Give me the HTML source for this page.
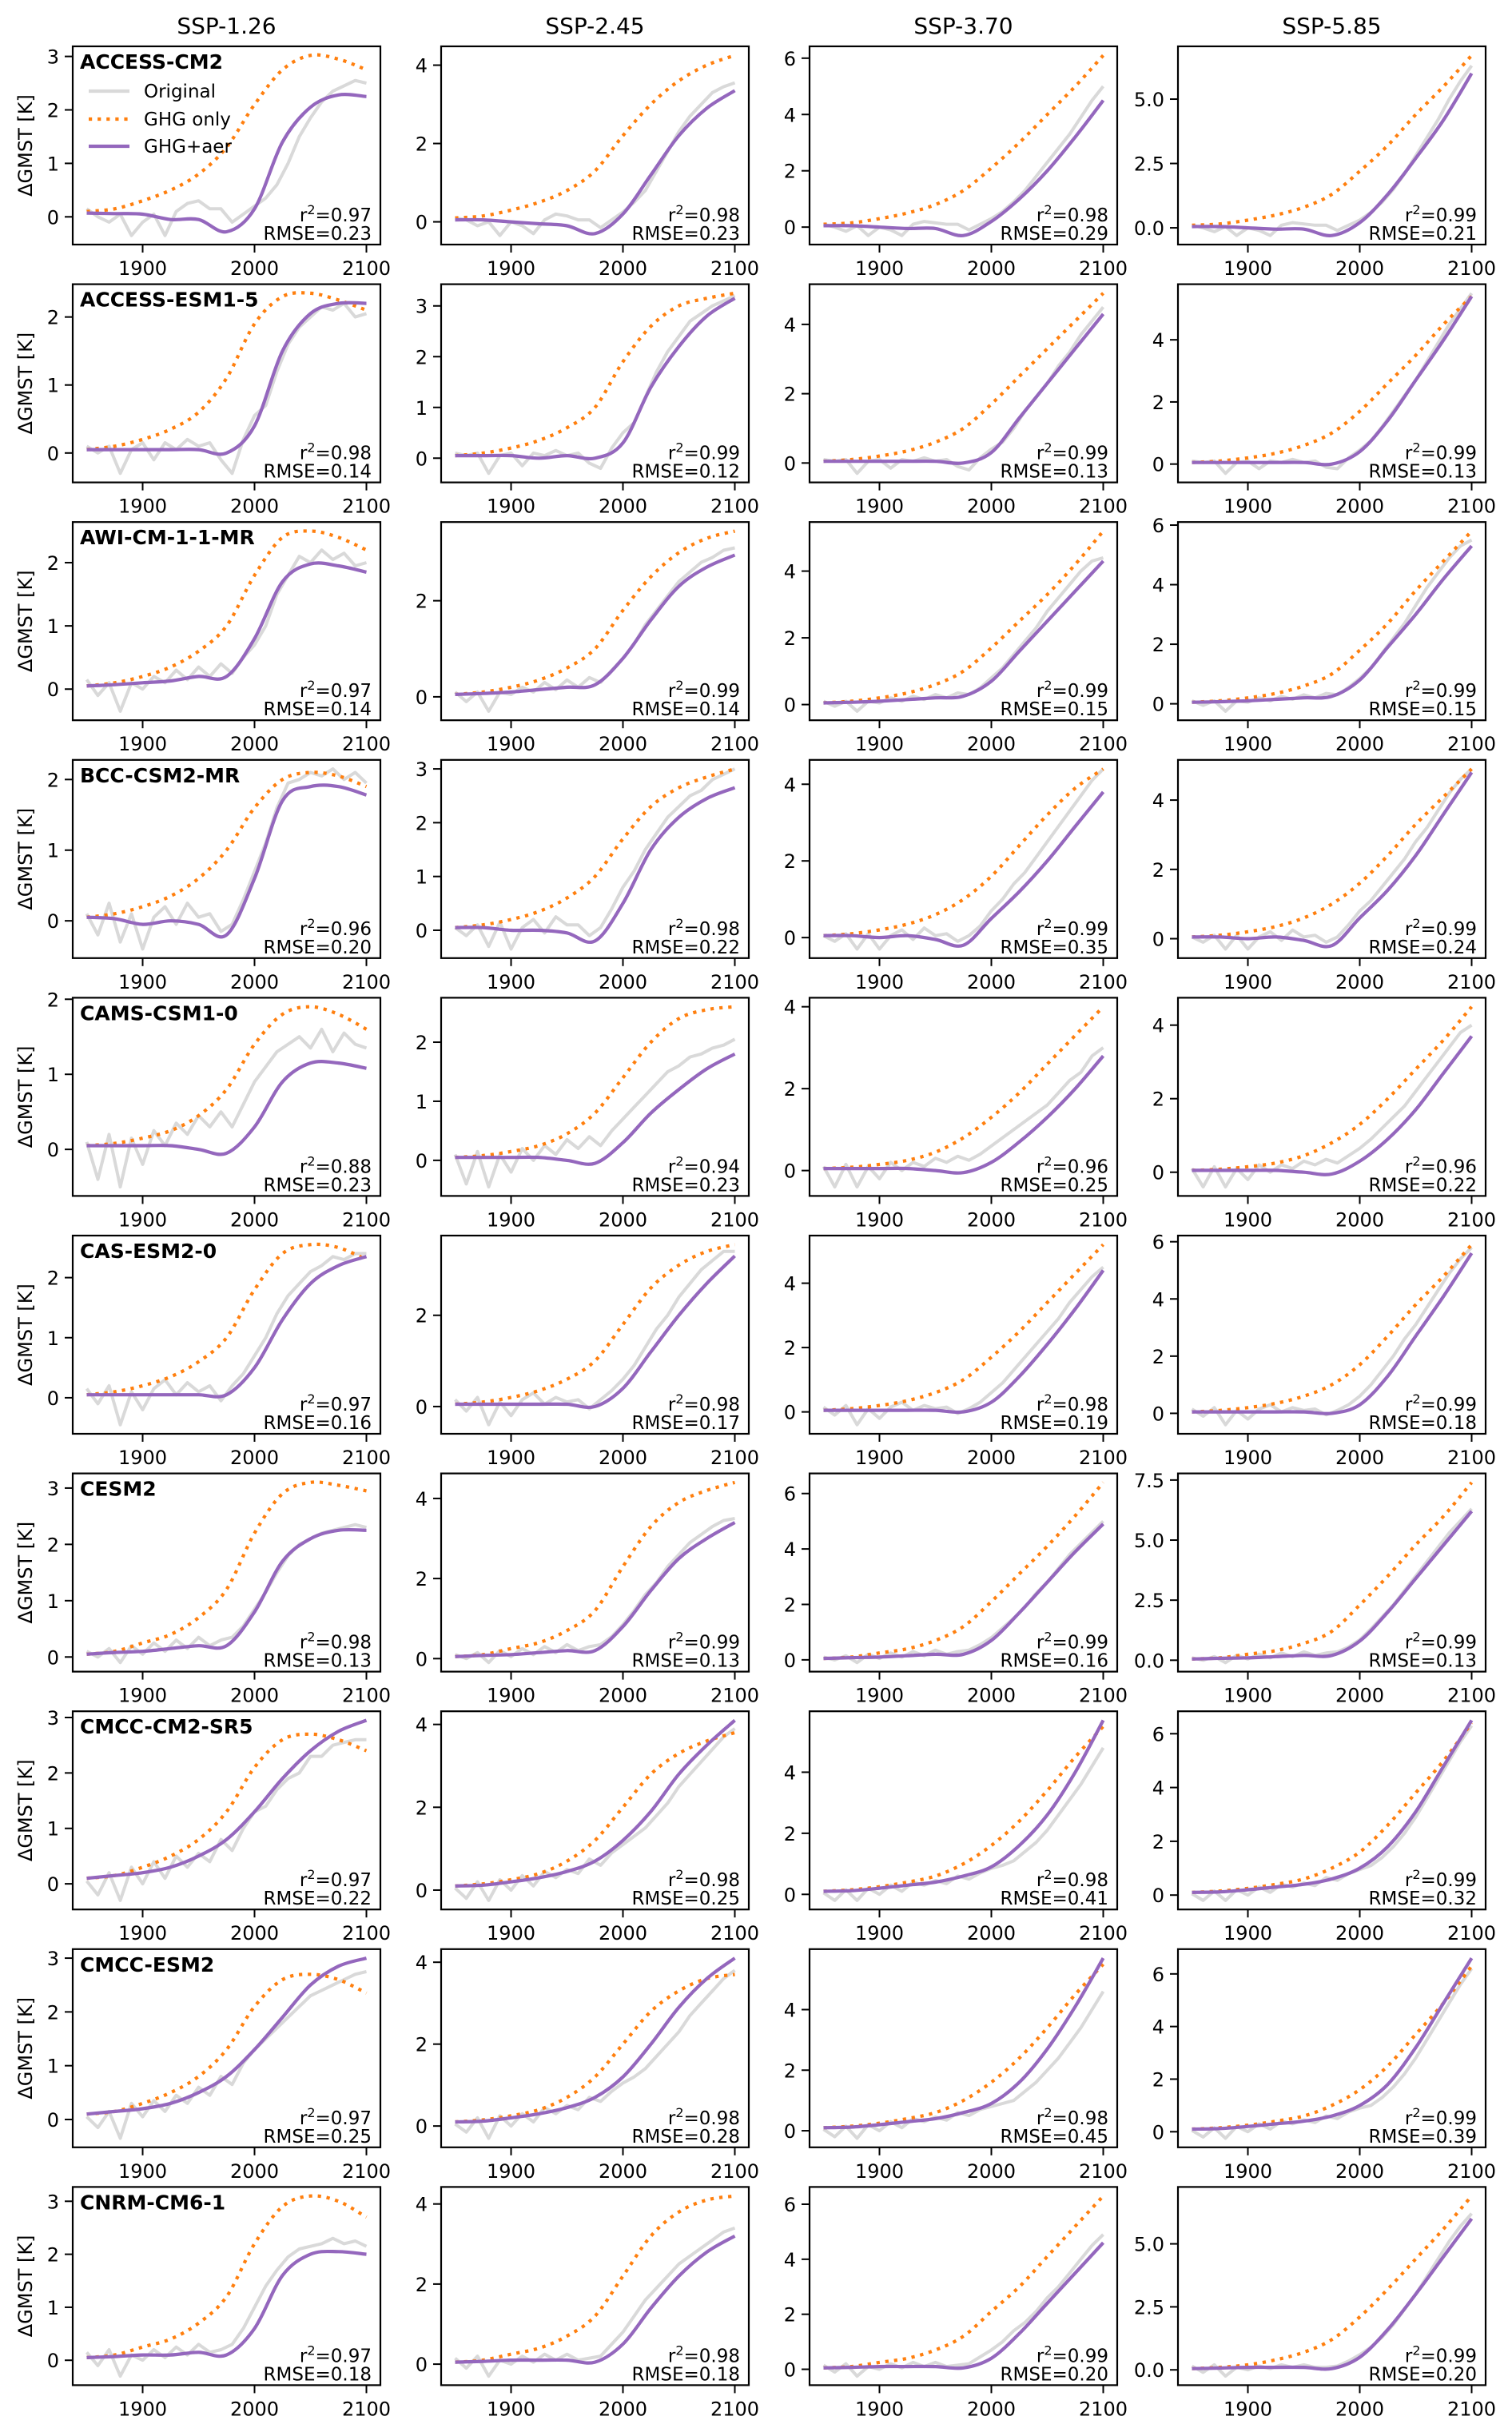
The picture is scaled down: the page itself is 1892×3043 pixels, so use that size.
<!DOCTYPE html>
<html>
<head>
<meta charset="utf-8">
<style>
html,body{margin:0;padding:0;background:#fff;}
svg{display:block;}
text{font-family:"DejaVu Sans","Liberation Sans",sans-serif;fill:#000;}
</style>
</head>
<body>
<svg id="fig" width="1892" height="3043" viewBox="0 0 1892 3043" xmlns="http://www.w3.org/2000/svg"></svg>
<script>
const scenarios = ["SSP-1.26","SSP-2.45","SSP-3.70","SSP-5.85"];
const models = ["ACCESS-CM2","ACCESS-ESM1-5","AWI-CM-1-1-MR","BCC-CSM2-MR","CAMS-CSM1-0","CAS-ESM2-0","CESM2","CMCC-CM2-SR5","CMCC-ESM2","CNRM-CM6-1"];
const smoothYears = [1850,1875,1900,1925,1950,1975,2000,2025,2050,2075,2100];
const origYears = [1850,1860,1870,1880,1890,1900,1910,1920,1930,1940,1950,1960,1970,1980,1990,2000,2010,2020,2030,2040,2050,2060,2070,2080,2090,2100];
const xTicks = [1900,2000,2100];
const tickSteps = [
1,2,2,2.5, 1,1,2,2, 1,2,2,2, 1,1,2,2, 1,1,2,2,
1,2,2,2, 1,2,2,2.5, 1,2,2,2, 1,2,2,2, 1,2,2,2.5];
const r2Vals = [
"0.97","0.98","0.98","0.99","0.98","0.99","0.99","0.99","0.97","0.99","0.99","0.99","0.96","0.98","0.99","0.99",
"0.88","0.94","0.96","0.96","0.97","0.98","0.98","0.99","0.98","0.99","0.99","0.99","0.97","0.98","0.98","0.99",
"0.97","0.98","0.98","0.99","0.97","0.98","0.99","0.99"];
const rmseVals = [
"0.23","0.23","0.29","0.21","0.14","0.12","0.13","0.13","0.14","0.14","0.15","0.15","0.20","0.22","0.35","0.24",
"0.23","0.23","0.25","0.22","0.16","0.17","0.19","0.18","0.13","0.13","0.16","0.13","0.22","0.25","0.41","0.32",
"0.25","0.28","0.45","0.39","0.18","0.18","0.20","0.20"];
const ghgOnly = [
[0.1,0.15,0.3,0.5,0.8,1.3,2.1,2.75,3.02,2.95,2.75],
[0.1,0.15,0.3,0.5,0.8,1.3,2.2,3.0,3.6,4.0,4.25],
[0.1,0.15,0.3,0.5,0.8,1.3,2.1,3.0,4.0,5.0,6.1],
[0.1,0.15,0.3,0.5,0.8,1.3,2.2,3.2,4.4,5.5,6.7],
[0.05,0.1,0.2,0.35,0.6,1.1,1.9,2.3,2.35,2.25,2.1],
[0.05,0.1,0.2,0.35,0.6,1.0,1.9,2.6,3.0,3.15,3.25],
[0.05,0.1,0.2,0.35,0.6,1.0,1.7,2.5,3.3,4.1,4.9],
[0.05,0.1,0.2,0.35,0.6,1.0,1.7,2.6,3.5,4.5,5.4],
[0.05,0.1,0.2,0.35,0.6,1.0,1.8,2.4,2.5,2.4,2.2],
[0.05,0.1,0.2,0.35,0.6,1.0,1.8,2.5,3.0,3.3,3.45],
[0.05,0.1,0.2,0.35,0.6,1.0,1.7,2.5,3.3,4.2,5.2],
[0.05,0.1,0.2,0.35,0.6,1.0,1.8,2.7,3.8,4.8,5.8],
[0.05,0.1,0.2,0.35,0.6,1.0,1.6,2.0,2.1,2.05,1.9],
[0.05,0.1,0.2,0.35,0.6,1.0,1.7,2.3,2.65,2.85,3.0],
[0.05,0.1,0.2,0.35,0.6,1.0,1.6,2.4,3.2,3.9,4.4],
[0.05,0.1,0.2,0.35,0.6,1.0,1.6,2.4,3.3,4.1,4.9],
[0.05,0.08,0.15,0.25,0.45,0.8,1.4,1.8,1.9,1.8,1.6],
[0.05,0.08,0.15,0.25,0.45,0.8,1.4,2.0,2.4,2.55,2.6],
[0.05,0.08,0.15,0.25,0.45,0.8,1.3,1.9,2.6,3.3,4.0],
[0.05,0.08,0.15,0.25,0.45,0.8,1.3,2.0,2.8,3.6,4.5],
[0.05,0.1,0.2,0.35,0.6,1.0,1.8,2.4,2.55,2.5,2.3],
[0.05,0.1,0.2,0.35,0.6,1.0,1.8,2.6,3.1,3.4,3.55],
[0.05,0.1,0.2,0.35,0.6,1.0,1.7,2.5,3.4,4.3,5.2],
[0.05,0.1,0.2,0.35,0.6,1.0,1.7,2.7,3.8,4.8,5.9],
[0.05,0.1,0.25,0.4,0.7,1.2,2.2,2.9,3.1,3.05,2.95],
[0.05,0.1,0.25,0.4,0.7,1.2,2.3,3.3,3.9,4.2,4.4],
[0.05,0.1,0.25,0.4,0.7,1.2,2.1,3.1,4.1,5.2,6.4],
[0.05,0.1,0.25,0.4,0.7,1.2,2.3,3.5,4.8,6.0,7.4],
[0.1,0.15,0.3,0.5,0.8,1.3,2.1,2.6,2.7,2.6,2.4],
[0.1,0.15,0.25,0.4,0.7,1.2,2.0,2.8,3.3,3.6,3.8],
[0.1,0.15,0.25,0.4,0.6,1.0,1.6,2.4,3.4,4.5,5.5],
[0.1,0.15,0.25,0.4,0.6,1.0,1.6,2.6,3.8,5.0,6.4],
[0.1,0.15,0.3,0.5,0.8,1.3,2.1,2.6,2.7,2.6,2.35],
[0.1,0.15,0.25,0.4,0.7,1.2,2.0,2.8,3.3,3.6,3.7],
[0.1,0.15,0.25,0.4,0.6,1.0,1.6,2.4,3.4,4.5,5.5],
[0.1,0.15,0.25,0.4,0.6,1.0,1.6,2.5,3.7,4.9,6.3],
[0.05,0.1,0.25,0.4,0.7,1.2,2.2,2.9,3.1,3.0,2.7],
[0.05,0.1,0.25,0.4,0.7,1.2,2.2,3.2,3.8,4.1,4.2],
[0.05,0.1,0.25,0.4,0.7,1.2,2.1,3.0,4.1,5.2,6.3],
[0.05,0.1,0.2,0.4,0.7,1.2,2.1,3.2,4.4,5.6,6.9]];
const ghgAer = [
[0.07,0.06,0.05,-0.05,-0.05,-0.28,0.15,1.4,2.05,2.28,2.25],
[0.05,0.05,0.0,-0.05,-0.1,-0.3,0.2,1.2,2.2,2.9,3.35],
[0.05,0.05,0.0,-0.05,-0.05,-0.3,0.2,1.0,2.0,3.2,4.5],
[0.05,0.05,0.0,-0.05,-0.05,-0.3,0.2,1.3,2.7,4.2,6.0],
[0.05,0.05,0.05,0.05,0.05,0.0,0.4,1.5,2.05,2.2,2.2],
[0.05,0.05,0.05,0.0,0.05,0.0,0.3,1.4,2.2,2.8,3.15],
[0.05,0.05,0.05,0.05,0.05,0.0,0.3,1.3,2.3,3.3,4.3],
[0.05,0.05,0.05,0.05,0.05,0.0,0.4,1.4,2.7,4.0,5.4],
[0.05,0.07,0.1,0.13,0.2,0.2,0.8,1.7,1.98,1.95,1.85],
[0.05,0.07,0.1,0.15,0.2,0.25,0.8,1.6,2.3,2.7,2.95],
[0.05,0.07,0.1,0.15,0.2,0.25,0.7,1.6,2.5,3.4,4.3],
[0.05,0.07,0.1,0.15,0.2,0.25,0.8,1.9,3.0,4.2,5.3],
[0.05,0.03,-0.05,0.0,-0.05,-0.2,0.6,1.7,1.9,1.9,1.78],
[0.05,0.05,0.0,0.0,-0.05,-0.2,0.5,1.5,2.1,2.45,2.65],
[0.05,0.05,0.0,0.05,-0.05,-0.2,0.5,1.2,2.0,2.9,3.8],
[0.05,0.05,0.0,0.05,-0.05,-0.2,0.6,1.4,2.4,3.6,4.8],
[0.05,0.05,0.05,0.05,0.0,-0.05,0.3,0.9,1.15,1.15,1.08],
[0.05,0.05,0.05,0.05,0.0,-0.05,0.3,0.8,1.2,1.55,1.8],
[0.05,0.05,0.05,0.05,0.0,-0.05,0.2,0.7,1.3,2.0,2.8],
[0.05,0.05,0.05,0.05,0.0,-0.05,0.3,0.9,1.7,2.7,3.7],
[0.05,0.05,0.05,0.05,0.05,0.05,0.5,1.3,1.9,2.2,2.35],
[0.05,0.05,0.05,0.05,0.05,0.0,0.4,1.2,2.0,2.7,3.3],
[0.05,0.05,0.05,0.05,0.05,0.0,0.3,1.1,2.1,3.2,4.4],
[0.05,0.05,0.05,0.05,0.05,0.0,0.3,1.3,2.7,4.1,5.6],
[0.05,0.08,0.1,0.15,0.2,0.2,0.8,1.7,2.1,2.25,2.25],
[0.05,0.08,0.1,0.15,0.2,0.2,0.8,1.7,2.5,3.0,3.4],
[0.05,0.08,0.1,0.15,0.2,0.2,0.7,1.7,2.8,3.9,4.9],
[0.05,0.08,0.1,0.15,0.2,0.2,0.8,2.0,3.4,4.8,6.2],
[0.1,0.15,0.2,0.3,0.5,0.8,1.3,1.9,2.4,2.75,2.95],
[0.1,0.12,0.2,0.3,0.45,0.7,1.2,1.9,2.8,3.5,4.1],
[0.1,0.12,0.2,0.3,0.4,0.6,0.9,1.6,2.6,4.0,5.7],
[0.1,0.12,0.2,0.3,0.4,0.6,1.0,1.8,3.1,4.8,6.5],
[0.1,0.15,0.2,0.3,0.5,0.8,1.3,1.9,2.5,2.85,3.0],
[0.1,0.12,0.2,0.3,0.45,0.7,1.2,2.0,2.9,3.6,4.1],
[0.1,0.12,0.2,0.3,0.4,0.6,0.9,1.6,2.7,4.1,5.7],
[0.1,0.12,0.2,0.3,0.4,0.6,1.0,1.8,3.2,4.9,6.6],
[0.05,0.07,0.1,0.1,0.15,0.1,0.6,1.6,2.0,2.05,2.0],
[0.05,0.07,0.1,0.1,0.1,0.05,0.5,1.4,2.2,2.8,3.2],
[0.05,0.07,0.1,0.1,0.1,0.05,0.4,1.3,2.4,3.5,4.6],
[0.05,0.07,0.1,0.1,0.1,0.05,0.5,1.6,3.0,4.5,6.0]];
const original = [
[0.15,0.0,-0.1,0.05,-0.35,-0.1,0.05,-0.35,0.1,0.25,0.3,0.15,0.15,-0.1,0.05,0.2,0.35,0.6,1.0,1.5,1.85,2.15,2.35,2.45,2.55,2.5],
[0.1,0.05,-0.1,0.0,-0.35,0.0,-0.1,-0.3,0.05,0.2,0.15,0.05,0.05,-0.15,0.05,0.25,0.5,0.8,1.3,1.8,2.3,2.7,3.0,3.3,3.45,3.55],
[0.1,0.0,-0.15,0.05,-0.3,0.0,-0.1,-0.3,0.1,0.2,0.15,0.1,0.1,-0.1,0.1,0.3,0.55,0.9,1.3,1.8,2.3,2.8,3.3,3.9,4.5,5.0],
[0.1,0.0,-0.15,0.05,-0.3,0.0,-0.1,-0.3,0.1,0.2,0.15,0.1,0.1,-0.1,0.1,0.3,0.6,1.0,1.5,2.1,2.8,3.5,4.2,5.0,5.7,6.3],
[0.1,0.0,0.1,-0.3,0.05,0.15,-0.1,0.15,0.05,0.2,0.1,0.15,-0.1,-0.3,0.2,0.55,0.7,1.2,1.6,1.85,2.0,2.15,2.1,2.2,2.0,2.05],
[0.1,0.05,0.1,-0.3,0.05,0.1,-0.15,0.1,0.05,0.15,0.05,0.1,-0.1,-0.2,0.2,0.5,0.7,1.2,1.7,2.1,2.4,2.7,2.85,3.0,3.1,3.2],
[0.1,0.05,0.1,-0.3,0.05,0.1,-0.15,0.1,0.05,0.15,0.05,0.1,-0.1,-0.2,0.15,0.4,0.6,1.0,1.5,1.9,2.3,2.8,3.2,3.7,4.1,4.5],
[0.1,0.05,0.1,-0.3,0.05,0.1,-0.15,0.1,0.05,0.15,0.05,0.1,-0.1,-0.15,0.2,0.45,0.75,1.2,1.7,2.2,2.7,3.3,3.9,4.5,5.0,5.5],
[0.15,-0.1,0.1,-0.35,0.1,0.0,0.2,0.1,0.3,0.15,0.35,0.2,0.4,0.25,0.5,0.7,1.0,1.5,1.8,2.1,2.0,2.2,2.05,2.15,1.95,2.0],
[0.1,-0.1,0.1,-0.3,0.1,0.05,0.2,0.1,0.3,0.15,0.35,0.2,0.4,0.3,0.55,0.8,1.1,1.5,1.8,2.1,2.4,2.6,2.8,2.9,3.05,3.1],
[0.1,-0.05,0.1,-0.2,0.1,0.05,0.2,0.1,0.25,0.15,0.3,0.2,0.35,0.3,0.5,0.8,1.1,1.5,1.9,2.3,2.8,3.2,3.6,4.0,4.3,4.4],
[0.1,-0.05,0.1,-0.25,0.1,0.05,0.2,0.1,0.25,0.15,0.3,0.2,0.35,0.3,0.55,0.85,1.2,1.7,2.2,2.7,3.3,3.9,4.4,4.9,5.3,5.5],
[0.1,-0.2,0.25,-0.3,0.1,-0.4,0.05,0.2,-0.05,0.25,0.05,0.1,-0.15,-0.05,0.3,0.7,1.1,1.6,1.95,2.0,2.1,2.05,2.15,2.0,2.1,1.95],
[0.05,-0.1,0.1,-0.3,0.15,-0.35,0.05,0.2,-0.05,0.25,0.1,0.1,-0.1,0.05,0.4,0.8,1.1,1.5,1.8,2.1,2.3,2.5,2.6,2.8,2.9,3.0],
[0.05,-0.1,0.1,-0.3,0.1,-0.3,0.05,0.2,-0.05,0.25,0.05,0.1,-0.1,0.05,0.3,0.7,1.0,1.4,1.7,2.1,2.5,2.9,3.3,3.7,4.1,4.4],
[0.05,-0.1,0.1,-0.3,0.1,-0.3,0.05,0.2,-0.05,0.25,0.05,0.1,-0.1,0.05,0.4,0.8,1.1,1.5,1.9,2.3,2.8,3.2,3.7,4.2,4.6,4.9],
[0.1,-0.4,0.2,-0.5,0.15,-0.2,0.25,0.05,0.35,0.2,0.45,0.3,0.5,0.3,0.6,0.9,1.1,1.3,1.4,1.5,1.35,1.6,1.3,1.55,1.4,1.35],
[0.1,-0.4,0.15,-0.45,0.1,-0.2,0.2,0.0,0.25,0.1,0.35,0.2,0.4,0.25,0.5,0.7,0.9,1.1,1.3,1.5,1.6,1.75,1.8,1.9,1.95,2.05],
[0.1,-0.4,0.15,-0.4,0.1,-0.2,0.2,0.0,0.2,0.1,0.3,0.2,0.35,0.25,0.4,0.6,0.8,1.0,1.2,1.4,1.6,1.9,2.2,2.4,2.8,3.0],
[0.1,-0.4,0.15,-0.4,0.1,-0.2,0.2,0.0,0.2,0.1,0.3,0.2,0.35,0.25,0.45,0.65,0.9,1.2,1.5,1.8,2.2,2.6,3.0,3.4,3.8,4.0],
[0.15,-0.1,0.2,-0.45,0.1,-0.2,0.15,0.3,0.05,0.25,0.1,0.2,-0.05,0.2,0.4,0.7,1.0,1.4,1.7,1.9,2.1,2.2,2.35,2.3,2.4,2.4],
[0.15,-0.1,0.2,-0.4,0.1,-0.2,0.15,0.3,0.05,0.2,0.1,0.15,-0.05,0.15,0.35,0.6,0.9,1.3,1.7,2.0,2.4,2.7,3.0,3.2,3.4,3.4],
[0.15,-0.1,0.2,-0.4,0.1,-0.2,0.15,0.3,0.05,0.2,0.1,0.15,-0.05,0.1,0.3,0.6,0.9,1.3,1.7,2.1,2.5,2.9,3.4,3.8,4.2,4.5],
[0.15,-0.1,0.2,-0.4,0.1,-0.2,0.15,0.3,0.05,0.2,0.1,0.15,-0.05,0.1,0.3,0.6,1.0,1.5,2.0,2.6,3.1,3.7,4.3,4.9,5.4,5.8],
[0.1,0.0,0.15,-0.1,0.2,0.05,0.25,0.1,0.3,0.15,0.35,0.2,0.3,0.35,0.55,0.85,1.15,1.5,1.8,2.0,2.1,2.2,2.25,2.3,2.35,2.3],
[0.1,0.0,0.15,-0.1,0.2,0.05,0.25,0.1,0.3,0.15,0.35,0.2,0.3,0.35,0.55,0.85,1.2,1.6,1.9,2.3,2.6,2.9,3.1,3.3,3.45,3.5],
[0.1,0.0,0.15,-0.1,0.2,0.05,0.25,0.1,0.3,0.15,0.35,0.2,0.3,0.35,0.55,0.8,1.15,1.5,1.9,2.4,2.8,3.3,3.8,4.2,4.6,5.0],
[0.1,0.0,0.15,-0.1,0.2,0.05,0.25,0.1,0.3,0.15,0.35,0.2,0.3,0.35,0.55,0.85,1.3,1.8,2.3,2.9,3.5,4.1,4.7,5.3,5.8,6.3],
[0.05,-0.2,0.2,-0.3,0.3,0.0,0.4,0.1,0.5,0.3,0.55,0.4,0.8,0.6,1.0,1.3,1.4,1.7,1.9,2.0,2.3,2.3,2.5,2.55,2.6,2.6],
[0.05,-0.2,0.2,-0.25,0.25,0.0,0.35,0.1,0.45,0.3,0.5,0.4,0.75,0.6,0.9,1.1,1.3,1.5,1.8,2.1,2.5,2.8,3.1,3.4,3.7,3.9],
[0.05,-0.2,0.15,-0.2,0.2,0.0,0.3,0.1,0.4,0.3,0.45,0.35,0.6,0.5,0.7,0.85,0.95,1.1,1.4,1.7,2.1,2.6,3.1,3.6,4.2,4.8],
[0.05,-0.2,0.15,-0.2,0.2,0.0,0.3,0.1,0.4,0.3,0.45,0.35,0.65,0.55,0.8,0.95,1.1,1.4,1.8,2.3,2.9,3.6,4.3,5.0,5.7,6.3],
[0.05,-0.15,0.15,-0.35,0.3,0.05,0.35,0.15,0.45,0.3,0.6,0.45,0.8,0.65,1.05,1.3,1.5,1.7,1.9,2.1,2.3,2.4,2.5,2.6,2.7,2.75],
[0.05,-0.15,0.2,-0.3,0.25,0.0,0.3,0.1,0.45,0.3,0.5,0.4,0.7,0.6,0.85,1.05,1.2,1.4,1.7,2.0,2.3,2.7,3.0,3.3,3.6,3.8],
[0.05,-0.2,0.15,-0.25,0.2,0.0,0.3,0.1,0.4,0.3,0.45,0.35,0.6,0.5,0.7,0.8,0.9,1.0,1.3,1.6,2.0,2.4,2.9,3.4,4.0,4.6],
[0.05,-0.2,0.15,-0.25,0.2,0.0,0.3,0.1,0.4,0.3,0.45,0.35,0.6,0.5,0.75,0.9,1.0,1.3,1.7,2.2,2.8,3.5,4.2,4.9,5.6,6.2],
[0.15,-0.1,0.2,-0.3,0.1,0.0,0.2,0.05,0.25,0.1,0.3,0.15,0.2,0.3,0.6,1.0,1.4,1.7,1.95,2.1,2.15,2.2,2.3,2.2,2.25,2.15],
[0.15,-0.1,0.2,-0.3,0.1,0.0,0.2,0.05,0.25,0.1,0.25,0.1,0.15,0.2,0.5,0.8,1.2,1.6,1.9,2.2,2.5,2.7,2.9,3.1,3.3,3.4],
[0.15,-0.1,0.2,-0.25,0.1,0.0,0.2,0.05,0.25,0.1,0.25,0.1,0.15,0.2,0.45,0.7,1.0,1.4,1.7,2.1,2.6,3.0,3.5,4.0,4.5,4.9],
[0.15,-0.1,0.2,-0.25,0.1,0.0,0.15,0.05,0.2,0.1,0.2,0.1,0.1,0.15,0.35,0.6,0.9,1.3,1.8,2.4,3.0,3.7,4.4,5.1,5.7,6.2]];

const NS = "http://www.w3.org/2000/svg";
const svg = document.getElementById("fig");
function mk(tag, attrs, parent){
  const e = document.createElementNS(NS, tag);
  for (const k in attrs) e.setAttribute(k, attrs[k]);
  (parent||svg).appendChild(e);
  return e;
}
const PX0 = 91, PDX = 461, PW = 385, PY0 = 58, PDY = 297.6, PH = 248;

function smoothPath(pts){
  let d = "M" + pts[0][0].toFixed(1) + "," + pts[0][1].toFixed(1);
  for (let i = 0; i < pts.length - 1; i++){
    const p0 = pts[Math.max(0,i-1)], p1 = pts[i], p2 = pts[i+1], p3 = pts[Math.min(pts.length-1,i+2)];
    const c1x = p1[0] + (p2[0]-p0[0])/6, c1y = p1[1] + (p2[1]-p0[1])/6;
    const c2x = p2[0] - (p3[0]-p1[0])/6, c2y = p2[1] - (p3[1]-p1[1])/6;
    d += " C" + c1x.toFixed(1)+","+c1y.toFixed(1)+" "+c2x.toFixed(1)+","+c2y.toFixed(1)+" "+p2[0].toFixed(1)+","+p2[1].toFixed(1);
  }
  return d;
}

// column titles
scenarios.forEach((s, c) => {
  const t = mk("text", {x: PX0 + c*PDX + PW/2, y: 42, "text-anchor": "middle", "font-size": 28});
  t.textContent = s;
  
  
});

for (let r = 0; r < models.length; r++){
  for (let c = 0; c < 4; c++){
    const idx = r*4 + c;
    const left = PX0 + c*PDX, top = PY0 + r*PDY, right = left + PW, bottom = top + PH;
    const g = mk("g", {});
    
    

    const all = ghgOnly[idx].concat(ghgAer[idx], original[idx]);
    const dmin = Math.min.apply(null, all), dmax = Math.max.apply(null, all);
    const yLo = dmin - 0.05*(dmax-dmin), yHi = dmax + 0.05*(dmax-dmin);
    const xLo = 1850 - 12.5, xHi = 2100 + 12.5;
    const xs = v => left + (v - xLo)/(xHi - xLo)*PW;
    const ys = v => bottom - (v - yLo)/(yHi - yLo)*PH;

    const cp = "clip" + idx;
    const defs = mk("defs", {}, g);
    const cl = mk("clipPath", {id: cp}, defs);
    mk("rect", {x:left, y:top, width:PW, height:PH}, cl);

    // original (gray)
    const op = mk("polyline", {points: origYears.map((y,i)=> xs(y).toFixed(1)+","+ys(original[idx][i]).toFixed(1)).join(" "),
      fill:"none", stroke:"#d9d9d9", "stroke-width":4, "stroke-linejoin":"round", "clip-path":"url(#"+cp+")"}, g);
    
    
    // GHG only (orange dotted)
    const gp = mk("path", {d: smoothPath(smoothYears.map((y,i)=>[xs(y), ys(ghgOnly[idx][i])])),
      fill:"none", stroke:"#ff7f0e", "stroke-width":4.2, "stroke-dasharray":"4.2 6.9", "clip-path":"url(#"+cp+")"}, g);
    
    
    // GHG+aer (purple)
    const ap = mk("path", {d: smoothPath(smoothYears.map((y,i)=>[xs(y), ys(ghgAer[idx][i])])),
      fill:"none", stroke:"#9467bd", "stroke-width":4.2, "stroke-linejoin":"round", "clip-path":"url(#"+cp+")"}, g);
    
    

    // frame
    const fr = mk("rect", {x:left, y:top, width:PW, height:PH, fill:"none", stroke:"#000", "stroke-width":2.2}, g);
    
    

    // x ticks
    xTicks.forEach(v => {
      const x = xs(v);
      mk("line", {x1:x, y1:bottom, x2:x, y2:bottom+10, stroke:"#000", "stroke-width":2}, g);
      const t = mk("text", {x:x, y:bottom+38, "text-anchor":"middle", "font-size":24}, g);
      t.textContent = String(v);
      
      
    });
    // y ticks
    const step = tickSteps[idx];
    for (let v = Math.ceil(yLo/step)*step; v <= yHi + 1e-9; v += step){
      const y = ys(v);
      mk("line", {x1:left-10, y1:y, x2:left, y2:y, stroke:"#000", "stroke-width":2}, g);
      const t = mk("text", {x:left-17, y:y+9, "text-anchor":"end", "font-size":24}, g);
      t.textContent = step === 2.5 ? v.toFixed(1) : String(Math.round(v));
      
      
    }

    // stats
    const t1 = mk("text", {x:right-11, y:bottom-29, "text-anchor":"end", "font-size":23}, g);
    t1.innerHTML = 'r<tspan dy="-9" font-size="16">2</tspan><tspan dy="9">=' + r2Vals[idx] + '</tspan>';
    
    
    const t2 = mk("text", {x:right-11, y:bottom-6, "text-anchor":"end", "font-size":23}, g);
    t2.textContent = "RMSE=" + rmseVals[idx];
    
    

    if (c === 0){
      const mn = mk("text", {x:left+9, y:top+28, "font-size":25, "font-weight":"bold"}, g);
      mn.textContent = models[r];
      
      
      const yl = mk("text", {x:0, y:0, "text-anchor":"middle", "font-size":24, transform:"translate(40," + (top+PH/2) + ") rotate(-90)"}, g);
      yl.textContent = "ΔGMST [K]";
      
      
    }
    if (idx === 0){
      const lg = mk("g", {}, g);
      
      
      const items = [["Original","#d9d9d9",null,114],["GHG only","#ff7f0e","4.2 6.9",149],["GHG+aer","#9467bd",null,183]];
      items.forEach(it => {
        const ln = mk("line", {x1:111, y1:it[3], x2:162, y2:it[3], stroke:it[1], "stroke-width":4.2}, lg);
        if (it[2]) ln.setAttribute("stroke-dasharray", it[2]);
        const lt = mk("text", {x:180, y:it[3]+8, "font-size":23}, lg);
        lt.textContent = it[0];
        
        
      });
    }
  }
}
</script>
</body>
</html>
